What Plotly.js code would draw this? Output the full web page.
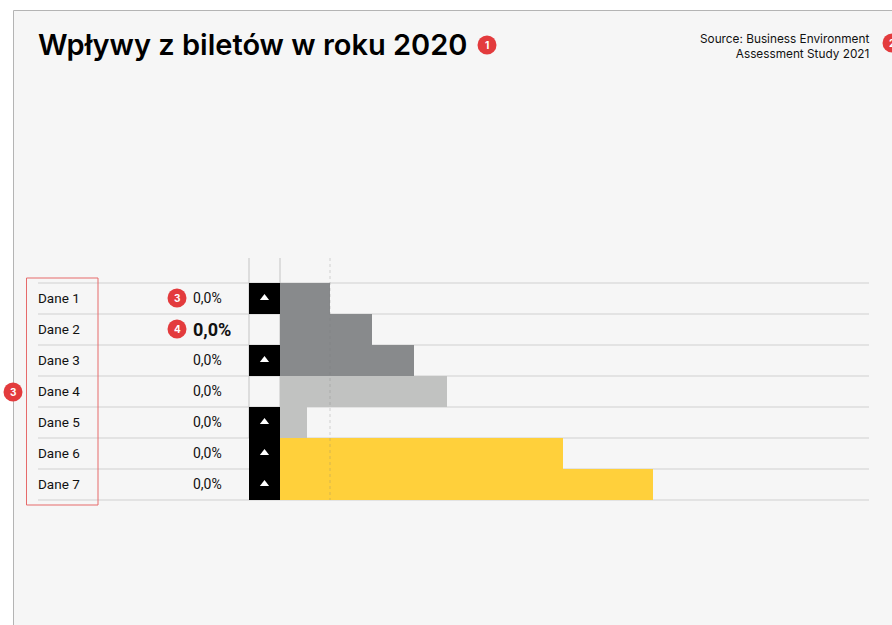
<!DOCTYPE html>
<html><head><meta charset="utf-8">
<script src="https://cdn.plot.ly/plotly-3.0.1.min.js"></script>
<style>html,body{margin:0;padding:0;background:#fff;overflow:hidden}#c{width:892px;height:625px}</style>
</head><body><div id="c"></div>
<script>
const titleText = 'Wpływy z biletów w roku 2020';
const sourceText = 'Source: Business Environment<br>Assessment Study 2021';
const categories = ['Dane 1','Dane 2','Dane 3','Dane 4','Dane 5','Dane 6','Dane 7'];
const shares = ['0,0%','0,0%','0,0%','0,0%','0,0%','0,0%','0,0%'];
const barValues = [50, 91.5, 133.5, 166.5, 26.5, 283, 373];
const barColors = ['#888a8c','#888a8c','#888a8c','#c1c2c1','#c1c2c1','#ffd03b','#ffd03b'];
const upFlags = [1,0,1,0,1,1,1];
const W = 892, H = 625;
const px = x => x / W, py = y => 1 - y / H;
const upCats = categories.filter((c,i) => upFlags[i]);
const CELL = 31;
const traces = [
  {type:'bar', orientation:'h', y:categories, x:barValues, base:0, width:1,
   marker:{color:barColors, line:{width:0}}, hoverinfo:'skip', showlegend:false},
  {type:'bar', orientation:'h', y:upCats, x:upCats.map(()=>CELL), base:-CELL, width:1,
   marker:{color:'#000', line:{width:0}}, hoverinfo:'skip', showlegend:false},
  {type:'scatter', mode:'markers', y:upCats, x:upCats.map(()=>-CELL/2),
   marker:{symbol:'triangle-up', size:8, color:'#fff'}, hoverinfo:'skip', showlegend:false}
];
const shapes = [
  {type:'rect', xref:'paper', yref:'paper', x0:px(13.5), x1:1.01, y0:-0.01, y1:py(10.5),
   fillcolor:'#f6f6f6', line:{color:'#b4b4b4', width:1}, layer:'below'}
];
for (let i=0;i<=categories.length;i++){
  const y = 283 + i*31;
  shapes.push({type:'line', xref:'paper', yref:'paper', x0:px(38), x1:px(869), y0:py(y), y1:py(y),
    line:{color:'#dcdcdc', width:1.5}, layer:'below'});
}
[249,280].forEach(x => shapes.push({type:'line', xref:'paper', yref:'paper', x0:px(x), x1:px(x), y0:py(258), y1:py(438),
    line:{color:'#c4c4c4', width:1}, layer:'below'}));
shapes.push({type:'line', xref:'paper', yref:'paper', x0:px(330), x1:px(330), y0:py(258), y1:py(500),
    line:{color:'rgba(120,120,120,0.3)', width:1, dash:'dot'}, layer:'above'});
shapes.push({type:'rect', xref:'paper', yref:'paper', x0:px(26.5), x1:px(98), y0:py(505), y1:py(278),
    fillcolor:'rgba(0,0,0,0)', line:{color:'#e66a6a', width:1}, layer:'above'});
const badges = [['1',487,45],['2',892,43],['3',13,392],['3',177,298],['4',177,329]];
const annotations = [];
badges.forEach(b => {
  const r = 9.5;
  shapes.push({type:'circle', xref:'paper', yref:'paper', x0:px(b[1]-r), x1:px(b[1]+r), y0:py(b[2]+r), y1:py(b[2]-r),
    fillcolor:'#e33b3d', line:{width:0}, layer:'above'});
  annotations.push({xref:'paper', yref:'paper', x:px(b[1]), y:py(b[2]), text:'<b>'+b[0]+'</b>', showarrow:false,
    xanchor:'center', yanchor:'middle', font:{family:'Inter', size:10, color:'#fff'}});
});
annotations.push({xref:'paper', yref:'paper', x:px(38), y:py(45), text:titleText, showarrow:false, xshift:-2,
  xanchor:'left', yanchor:'middle', font:{family:'Inter', size:29, color:'#000', weight:600}});
annotations.push({xref:'paper', yref:'paper', x:px(869), y:py(46), text:sourceText, showarrow:false, align:'right', xshift:2,
  xanchor:'right', yanchor:'middle', font:{family:'Inter', size:11.8, color:'#111'}});
categories.forEach((c,i) => {
  const big = i === 1;
  annotations.push({x:-242, y:c, xref:'x', yref:'y', text:c, showarrow:false, xanchor:'left', yanchor:'middle', xshift:-2,
    font:{family:'Roboto', size:13.5, color:'#111'}});
  annotations.push({x:-87, y:c, xref:'x', yref:'y', text:big ? '<b>'+shares[i]+'</b>' : shares[i], showarrow:false, xshift:-2,
    xanchor:'left', yanchor:'middle', font:{family:'Roboto', size:big?18:14, color:'#111'}});
});
const layout = {
  width:W, height:H, margin:{l:0,r:0,t:0,b:0}, paper_bgcolor:'#fff', plot_bgcolor:'rgba(0,0,0,0)',
  barmode:'overlay', bargap:0, showlegend:false,
  xaxis:{range:[-280,612], visible:false, fixedrange:true},
  yaxis:{type:'category', categoryorder:'array', categoryarray:categories, range:[10.548,-9.613], visible:false, fixedrange:true},
  shapes, annotations
};
Plotly.newPlot('c', traces, layout, {displayModeBar:false, staticPlot:true});
</script></body></html>
